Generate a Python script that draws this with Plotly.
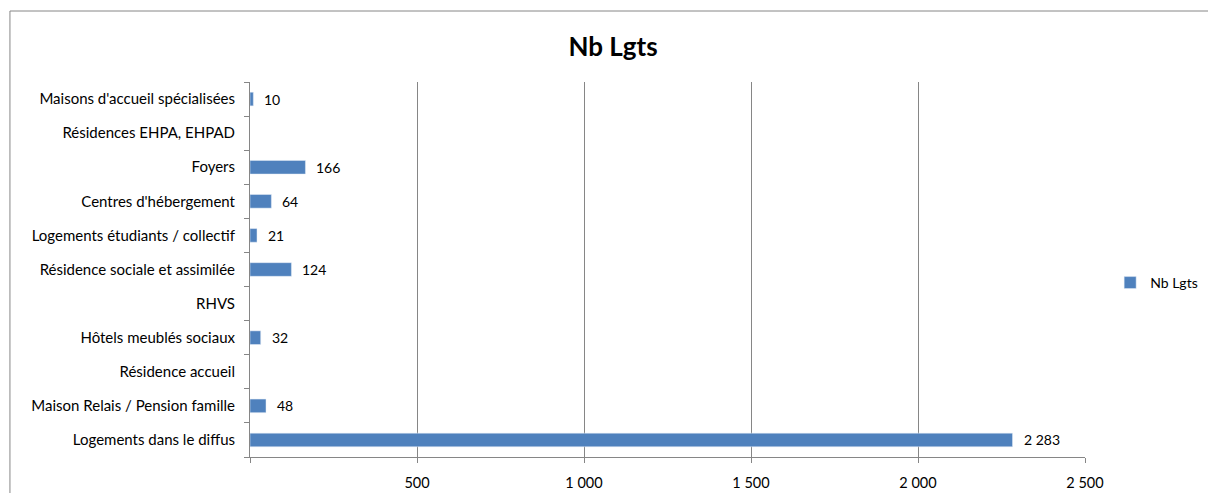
import plotly.graph_objects as go

# Housing categories (bottom to top) and number of dwellings
categories = [
    "Logements dans le diffus",
    "Maison Relais / Pension famille",
    "Résidence accueil",
    "Hôtels meublés sociaux",
    "RHVS",
    "Résidence sociale et assimilée",
    "Logements étudiants / collectif",
    "Centres d'hébergement",
    "Foyers",
    "Résidences EHPA, EHPAD",
    "Maisons d'accueil spécialisées",
]
nb_lgts = [2283, 48, None, 32, None, 124, 21, 64, 166, None, 10]

x_tick_values = [0, 500, 1000, 1500, 2000, 2500]
x_tick_labels = ["", "500", "1 000", "1 500", "2 000", "2 500"]

BAR_BLUE = "#4F81BD"
AXIS_GREY = "#868686"
FONT = "Lato, Carlito, Calibri, sans-serif"


def fmt(v):
    return f"{v:,}".replace(",", " ")


fig = go.Figure(
    go.Bar(
        x=nb_lgts,
        y=categories,
        orientation="h",
        name="Nb Lgts",
        marker=dict(color=BAR_BLUE),
        showlegend=True,
    )
)

# value labels to the right of each bar
for cat, v in zip(categories, nb_lgts):
    if v:
        fig.add_annotation(
            x=v, y=cat, text=fmt(v), showarrow=False,
            xanchor="left", yanchor="middle", xshift=9,
            font=dict(family=FONT, size=14, color="#000000"),
        )

# chart frame
fig.add_shape(
    type="rect", xref="paper", yref="paper",
    x0=-0.2875, x1=1.3, y0=-0.3, y1=1.1893,
    line=dict(color=AXIS_GREY, width=1), layer="below",
)

fig.update_layout(
    width=1208,
    height=493,
    margin=dict(l=250, r=123, t=82, b=36, autoexpand=False),
    paper_bgcolor="#ffffff",
    plot_bgcolor="#ffffff",
    bargap=0.6,
    font=dict(family=FONT, size=14, color="#000000"),
    title=dict(
        text="<b>Nb Lgts</b>",
        x=0.5075, xanchor="center", y=0.905, yanchor="middle",
        font=dict(family=FONT, size=26, color="#000000"),
    ),
    legend=dict(
        xref="container", yref="container",
        x=0.919, y=0.426, xanchor="left", yanchor="middle",
        font=dict(family=FONT, size=14, color="#000000"),
        bgcolor="rgba(0,0,0,0)", itemwidth=30,
    ),
    xaxis=dict(
        range=[0, 2500],
        tickvals=x_tick_values,
        ticktext=x_tick_labels,
        showgrid=True, gridcolor=AXIS_GREY, gridwidth=1,
        showline=True, linecolor=AXIS_GREY, linewidth=1,
        ticks="outside", ticklen=5, tickcolor=AXIS_GREY,
        ticklabelstandoff=8,
        zeroline=False, fixedrange=True, automargin=False,
        tickfont=dict(family=FONT, size=14.5),
    ),
    yaxis=dict(
        categoryorder="array", categoryarray=categories,
        range=[-0.5, len(categories) - 0.5],
        showline=True, linecolor=AXIS_GREY, linewidth=1,
        ticks="outside", ticklen=5, tickcolor=AXIS_GREY,
        tickson="boundaries",
        ticklabelstandoff=11,
        showgrid=False, fixedrange=True, automargin=False,
        tickfont=dict(family=FONT, size=15),
    ),
)

fig.write_html("out.html")
